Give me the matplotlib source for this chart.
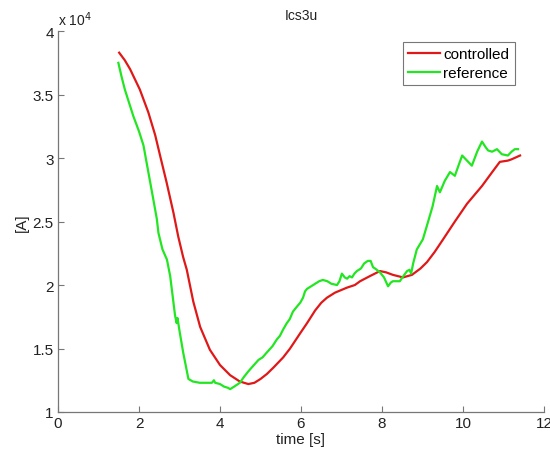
import matplotlib
matplotlib.use("Agg")
import matplotlib.pyplot as plt
from matplotlib.ticker import FuncFormatter

# current in units of 1e4 A
t_controlled = [1.51, 1.65, 1.78, 2.02, 2.23, 2.40, 2.52, 2.68, 2.85, 2.97, 3.09,
                3.18, 3.34, 3.51, 3.75, 4.00, 4.25, 4.49, 4.70, 4.85, 5.00, 5.16,
                5.32, 5.56, 5.73, 5.98, 6.15, 6.35, 6.50, 6.64, 6.84, 7.14, 7.33,
                7.46, 7.70, 7.95, 8.10, 8.27, 8.52, 8.74, 8.95, 9.11, 9.30, 9.51,
                9.80, 10.10, 10.47, 10.70, 10.91, 11.11, 11.20, 11.41]
i_controlled = [3.83, 3.77, 3.70, 3.54, 3.36, 3.18, 3.02, 2.81, 2.57, 2.38, 2.22,
                2.12, 1.87, 1.67, 1.49, 1.37, 1.29, 1.24, 1.22, 1.23, 1.26, 1.30,
                1.35, 1.43, 1.50, 1.62, 1.70, 1.80, 1.86, 1.90, 1.94, 1.98, 2.00,
                2.03, 2.07, 2.11, 2.10, 2.08, 2.06, 2.08, 2.13, 2.18, 2.26, 2.36,
                2.50, 2.64, 2.78, 2.88, 2.97, 2.98, 2.99, 3.02]

t_reference = [1.49, 1.57, 1.65, 1.75, 1.86, 2.00, 2.11, 2.23, 2.35, 2.44, 2.48,
               2.58, 2.69, 2.77, 2.89, 2.93, 2.95, 3.01, 3.09, 3.22, 3.33, 3.50,
               3.68, 3.80, 3.85, 3.88, 4.00, 4.10, 4.20, 4.25, 4.35, 4.49, 4.60,
               4.70, 4.81, 4.95, 5.05, 5.16, 5.30, 5.40, 5.48, 5.56, 5.65, 5.72,
               5.80, 5.90, 5.98, 6.05, 6.10, 6.15, 6.30, 6.45, 6.54, 6.65, 6.75,
               6.89, 6.95, 7.01, 7.08, 7.14, 7.20, 7.26, 7.32, 7.38, 7.48, 7.56,
               7.65, 7.72, 7.78, 7.83, 7.95, 8.05, 8.15, 8.22, 8.27, 8.44, 8.55,
               8.62, 8.68, 8.72, 8.77, 8.86, 9.01, 9.14, 9.25, 9.36, 9.43, 9.55,
               9.68, 9.80, 9.90, 9.98, 10.10, 10.22, 10.35, 10.47, 10.55, 10.62,
               10.72, 10.84, 10.96, 11.11, 11.20, 11.28, 11.36]
i_reference = [3.75, 3.64, 3.54, 3.44, 3.33, 3.21, 3.10, 2.89, 2.68, 2.52, 2.41,
               2.28, 2.20, 2.07, 1.76, 1.70, 1.74, 1.62, 1.47, 1.26, 1.24, 1.23,
               1.23, 1.23, 1.25, 1.23, 1.22, 1.20, 1.19, 1.18, 1.20, 1.23, 1.28,
               1.32, 1.36, 1.41, 1.43, 1.47, 1.52, 1.57, 1.60, 1.65, 1.70, 1.73,
               1.79, 1.83, 1.86, 1.90, 1.95, 1.97, 2.00, 2.03, 2.04, 2.03, 2.01,
               2.00, 2.03, 2.09, 2.06, 2.05, 2.07, 2.06, 2.09, 2.11, 2.13, 2.17,
               2.19, 2.19, 2.14, 2.13, 2.10, 2.06, 1.99, 2.02, 2.03, 2.03, 2.08,
               2.11, 2.12, 2.09, 2.17, 2.28, 2.36, 2.50, 2.62, 2.78, 2.73, 2.82,
               2.89, 2.86, 2.95, 3.02, 2.98, 2.94, 3.05, 3.13, 3.09, 3.06,
               3.05, 3.07, 3.03, 3.02, 3.05, 3.07, 3.07]

scale = 1e4
x_ticks = [0, 2, 4, 6, 8, 10, 12]
y_ticks = [1.0, 1.5, 2.0, 2.5, 3.0, 3.5, 4.0]

plt.rcParams['font.family'] = ['Liberation Sans', 'DejaVu Sans']

fig = plt.figure(figsize=(5.5, 4.52), dpi=100)
ax = fig.add_axes([0.1055, 0.0863, 0.8835, 0.8427])

ax.plot(t_controlled, [v * scale for v in i_controlled], color='#e01818',
        lw=1.6, label='controlled')
ax.plot(t_reference, [v * scale for v in i_reference], color='#22e622',
        lw=1.6, label='reference')

ax.set_xlim(0, 12)
ax.set_ylim(1.0 * scale, 4.0 * scale)
ax.set_xticks(x_ticks)
ax.set_yticks([v * scale for v in y_ticks])
ax.yaxis.set_major_formatter(FuncFormatter(lambda v, p: f"{v / scale:g}"))

for side in ('top', 'right'):
    ax.spines[side].set_visible(False)
for side in ('left', 'bottom'):
    ax.spines[side].set_color('#777777')
    ax.spines[side].set_linewidth(0.9)
ax.tick_params(direction='in', length=4, width=0.8, color='#777777',
               labelsize=11, labelcolor='#222222', pad=3)

ax.text(0.0, 1.008, r'x 10$^4$', transform=ax.transAxes, fontsize=10,
        color='#222222', ha='left', va='bottom')
ax.set_title('Ics3u', fontsize=10, color='#222222', pad=8.5)
ax.set_xlabel('time [s]', fontsize=11, color='#222222', labelpad=1)
ax.set_ylabel('[A]', fontsize=11, color='#222222', labelpad=3)

leg = ax.legend(loc='upper right', bbox_to_anchor=(0.94, 0.972), fontsize=11,
                frameon=True, fancybox=False, handlelength=2.1,
                handletextpad=0.2, borderpad=0.35, labelspacing=0.33,
                borderaxespad=0.0)
leg.get_frame().set_edgecolor('#555555')
leg.get_frame().set_linewidth(0.8)

fig.savefig('out.png', dpi=100)
